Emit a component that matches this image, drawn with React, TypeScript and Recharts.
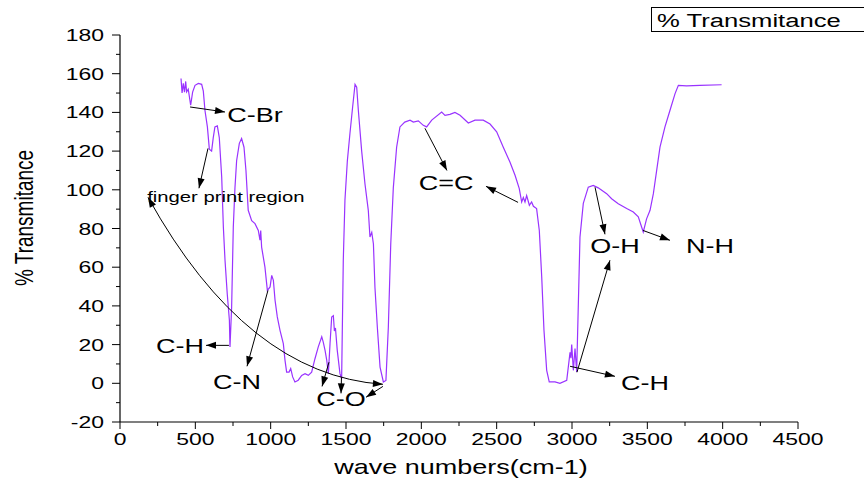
import React from "react";
import {
  LineChart,
  Line,
  XAxis,
  YAxis,
  ReferenceLine,
  ReferenceDot,
} from "recharts";

// wavenumber (cm-1) and % transmittance
const waveNumbers = [
  405, 412, 420, 428, 436, 442, 453, 469, 482, 498, 520, 542, 553, 564, 580,
  593, 608, 619, 630, 646, 659, 675, 686, 697, 712, 726, 730, 741, 752, 763,
  774, 792, 807, 823, 836, 851, 874, 896, 918, 929, 934, 940, 962, 978, 996,
  1007, 1018, 1029, 1044, 1062, 1084, 1095, 1106, 1122, 1133, 1146, 1161,
  1183, 1206, 1228, 1250, 1272, 1294, 1316, 1339, 1349, 1361, 1372, 1383,
  1394, 1405, 1416, 1423, 1430, 1442, 1460, 1471, 1482, 1493, 1509, 1526,
  1544, 1560, 1571, 1582, 1604, 1626, 1648, 1659, 1671, 1682, 1692, 1708,
  1726, 1748, 1765, 1781, 1797, 1814, 1836, 1858, 1890, 1925, 1947, 1980,
  2013, 2035, 2069, 2135, 2157, 2190, 2223, 2257, 2312, 2356, 2411, 2456,
  2500, 2544, 2588, 2622, 2650, 2666, 2677, 2688, 2699, 2717, 2732, 2744,
  2765, 2783, 2799, 2814, 2832, 2849, 2887, 2920, 2965, 2987, 2993, 2998,
  3009, 3020, 3031, 3053, 3075, 3108, 3141, 3174, 3230, 3263, 3307, 3363,
  3407, 3440, 3462, 3473, 3495, 3518, 3540, 3562, 3584, 3617, 3650, 3684,
  3706, 3760, 3849, 3993,
];
const transmittance = [
  157.5, 150, 155, 150.5, 156, 150.6, 152, 143.7, 150.5, 154, 155, 154.5, 151,
  141, 132.5, 121, 120, 127, 132.5, 133, 127, 106.6, 80.8, 63.6, 46, 32.6,
  18.8, 39.4, 80.8, 101, 115, 124, 126.5, 122, 110, 89.4, 84, 82.5, 79, 74,
  79, 70.4, 60, 48, 49.8, 55.8, 53.2, 43, 34.3, 27.4, 20.5, 12, 5.8, 5.8, 7.6,
  3.3, 0.7, 1.6, 4.1, 5, 4.1, 5.8, 12.7, 18.8, 24, 21.3, 17, 12, 5, 20.5,
  34.3, 35, 27, 28.6, 17, 5, 2.4, 63.6, 94.6, 115, 129, 142.8, 154.5, 153,
  141, 120, 103, 89.4, 75.6, 78, 72, 49.8, 29, 8.4, 0.7, 1.5, 29, 72, 101,
  122, 132.5, 135, 136, 135, 135.6, 133.3, 132.5, 136, 140.2, 138.5, 139, 140,
  138.5, 134.5, 136, 136, 134, 130, 122, 114.4, 107.5, 100.6, 93.7, 96, 93.7,
  97, 92, 93.7, 91.5, 90.3, 79, 55, 27.4, 6.7, 0.7, 0.7, 0, 1.5, 16, 13, 20,
  6.7, 18, 5.8, 75.6, 93, 101.4, 102.3, 101, 98, 95.4, 92.8, 90.3, 88.5, 86,
  80.8, 78.2, 85, 89.4, 98, 110, 122, 132.5, 141, 149.7, 154, 153.7, 154,
  154.3,
];

const xTicks = [
  0, 250, 500, 750, 1000, 1250, 1500, 1750, 2000, 2250, 2500, 2750, 3000,
  3250, 3500, 3750, 4000, 4250, 4500,
];
const yTicks = [
  -20, -10, 0, 10, 20, 30, 40, 50, 60, 70, 80, 90, 100, 110, 120, 130, 140,
  150, 160, 170, 180,
];

// peak labels (text, wavenumber, transmittance at text centre)
const peakLabels: [string, number, number, number][] = [
  ["C-Br", 896, 139, 20],
  ["finger print region", 703, 96.6, 15],
  ["C-H", 398, 19.6, 20],
  ["C-N", 777, 1, 20],
  ["C-O", 1467, -7.8, 20],
  ["C=C", 2164, 103.4, 20],
  ["O-H", 3285, 71.3, 20],
  ["N-H", 3916, 71.3, 20],
  ["C-H", 3484, 0.5, 20],
];

// arrows: from (x1, y1) to the head at (x2, y2)
const arrows: [number, number, number, number][] = [
  [465, 142.8, 697, 140.2],
  [584, 121.4, 524, 100.8],
  [723, 19.6, 571, 19.6],
  [982, 48, 843, 8.8],
  [1387, 10.9, 1341, -1.6],
  [1470, 3.1, 1467, -5.2],
  [1745, -1.6, 1633, -7.2],
  [2024, 131.8, 2170, 110],
  [2642, 93.5, 2429, 101.8],
  [3153, 101.3, 3219, 77],
  [3033, 5.7, 3252, 63.6],
  [3471, 79, 3650, 73.9],
  [2987, 8.8, 3285, 3.6],
];

const data = waveNumbers.map((w, i) => ({ wn: w, t: transmittance[i] }));

const FONT = "'Liberation Sans', Arial, sans-serif";
const SX = 1.35; // the original figure is stretched sideways

function SText({ x, y, size, anchor, children }: any) {
  return (
    <text
      transform={`translate(${x},${y}) scale(${SX},1)`}
      textAnchor={anchor}
      fontSize={size}
      fontFamily={FONT}
      fill="#000"
    >
      {children}
    </text>
  );
}

function head(x1: number, y1: number, x2: number, y2: number) {
  const len = Math.hypot(x2 - x1, y2 - y1) || 1;
  const ux = (x2 - x1) / len;
  const uy = (y2 - y1) / len;
  const L = 10;
  const W = 3.5;
  const bx = x2 - ux * L;
  const by = y2 - uy * L;
  return `${x2},${y2} ${bx - uy * W},${by + ux * W} ${bx + uy * W},${by - ux * W}`;
}

const ArrowShape = (p: any) => {
  const { x1, y1, x2, y2 } = p;
  return (
    <g>
      <line x1={x1} y1={y1} x2={x2} y2={y2} stroke="#000" strokeWidth={1} />
      <polygon points={head(x1, y1, x2, y2)} fill="#000" />
    </g>
  );
};

// bowed arrow under the fingerprint region, heads at both ends
const CurveShape = (p: any) => {
  const { x1, y1, x2, y2 } = p;
  const cx = x1 + 0.42 * (x2 - x1);
  const cy = y1 + 0.95 * (y2 - y1);
  return (
    <g>
      <path
        d={`M${x1},${y1} Q${cx},${cy} ${x2},${y2}`}
        fill="none"
        stroke="#000"
        strokeWidth={1}
      />
      <polygon points={head(cx, cy, x1, y1)} fill="#000" />
      <polygon points={head(cx, cy, x2, y2)} fill="#000" />
    </g>
  );
};

const XTick = (props: any) => {
  const { x, y, payload } = props;
  const major = payload.value % 500 === 0;
  return (
    <g>
      <line x1={x} y1={y} x2={x} y2={y + (major ? 7 : 4)} stroke="#000" />
      {major && (
        <SText x={x} y={y + 23} size={17} anchor="middle">
          {payload.value}
        </SText>
      )}
    </g>
  );
};

const YTick = (props: any) => {
  const { x, y, payload } = props;
  const major = payload.value % 20 === 0;
  return (
    <g>
      <line x1={x} y1={y} x2={x - (major ? 8 : 4)} y2={y} stroke="#000" />
      {major && (
        <SText x={x - 16} y={y + 6} size={17} anchor="end">
          {payload.value}
        </SText>
      )}
    </g>
  );
};

export default function App() {
  return (
    <div
      style={{
        position: "absolute",
        left: 0,
        top: 0,
        width: 864,
        height: 485,
        background: "#fff",
        overflow: "hidden",
      }}
    >
      <LineChart
        width={864}
        height={485}
        data={data}
        margin={{ top: 35, right: 66, bottom: 0, left: 0 }}
      >
        <XAxis
          dataKey="wn"
          type="number"
          domain={[0, 4500]}
          ticks={xTicks}
          interval={0}
          height={63}
          tickSize={0}
          tickMargin={0}
          tickLine={false}
          tick={<XTick />}
          axisLine={{ stroke: "#000", strokeWidth: 1.2 }}
        />
        <YAxis
          type="number"
          domain={[-20, 180]}
          ticks={yTicks}
          interval={0}
          width={120}
          tickSize={0}
          tickMargin={0}
          tickLine={false}
          tick={<YTick />}
          axisLine={{ stroke: "#000", strokeWidth: 1.2 }}
        />
        <Line
          type="linear"
          dataKey="t"
          stroke="#9933ff"
          strokeWidth={1.2}
          dot={false}
          isAnimationActive={false}
        />
        <ReferenceLine
          segment={[
            { x: 186, y: 96.1 },
            { x: 1745, y: -0.5 },
          ]}
          ifOverflow="visible"
          shape={CurveShape}
        />
        {arrows.map((a, i) => (
          <ReferenceLine
            key={"a" + i}
            segment={[
              { x: a[0], y: a[1] },
              { x: a[2], y: a[3] },
            ]}
            ifOverflow="visible"
            shape={ArrowShape}
          />
        ))}
        {peakLabels.map((l, i) => (
          <ReferenceDot
            key={"l" + i}
            x={l[1]}
            y={l[2]}
            ifOverflow="visible"
            shape={(p: any) => (
              <SText x={p.cx} y={p.cy + l[3] * 0.36} size={l[3]} anchor="middle">
                {l[0]}
              </SText>
            )}
          />
        ))}
        <text
          transform={`translate(33,218) scale(${SX},1) rotate(-90)`}
          textAnchor="middle"
          fontSize={19}
          fontFamily={FONT}
          fill="#000"
        >
          % Transmitance
        </text>
        <SText x={461} y={474} size={20} anchor="middle">
          wave numbers(cm-1)
        </SText>
      </LineChart>
      <div
        style={{
          position: "absolute",
          left: 651,
          top: 7,
          width: 230,
          height: 25,
          border: "1px solid #000",
          boxSizing: "border-box",
        }}
      >
        <svg width={230} height={25} style={{ display: "block" }}>
          <SText x={5} y={19} size={19} anchor="start">
            % Transmitance
          </SText>
        </svg>
      </div>
    </div>
  );
}
